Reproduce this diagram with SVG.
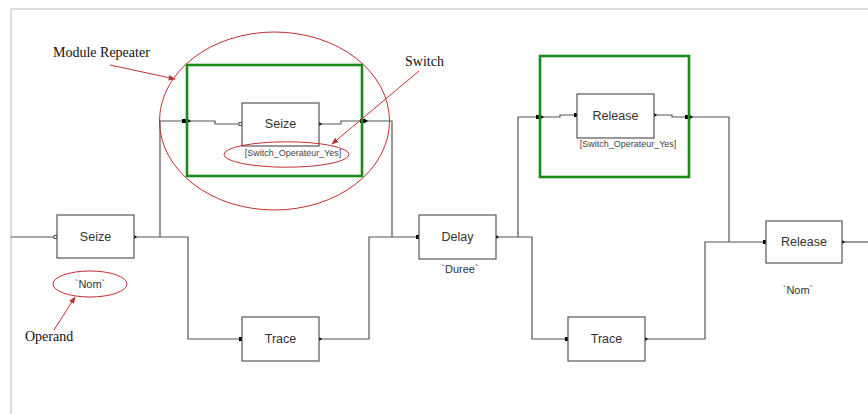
<svg xmlns="http://www.w3.org/2000/svg" width="868" height="414" viewBox="0 0 868 414">
<defs>
<style>
.box{fill:#fff;stroke:#555;stroke-width:1.2}
.wire{fill:none;stroke:#555;stroke-width:1.2}
.lbl{font-family:"Liberation Sans",Arial,sans-serif;font-size:12.5px;fill:#333;text-anchor:middle;dominant-baseline:central}
.sub{font-family:"Liberation Sans",Arial,sans-serif;font-size:9px;fill:#444;text-anchor:middle;dominant-baseline:central}
.op{font-family:"Liberation Sans",Arial,sans-serif;font-size:11px;fill:#333;text-anchor:middle;dominant-baseline:central}
.note{font-family:"Liberation Serif","Times New Roman",serif;font-size:14px;fill:#111;dominant-baseline:central}
.mod{fill:none;stroke:#1a8a1a;stroke-width:2.6}
.red{fill:none;stroke:#c03030;stroke-width:1}
.redl{fill:none;stroke:#c03030;stroke-width:1;marker-end:url(#ah)}
.pin{fill:#000}
.pino{fill:#fff;stroke:#333;stroke-width:0.8}
</style>
<marker id="ah" viewBox="0 0 10 10" refX="9" refY="5" markerWidth="7" markerHeight="7" orient="auto">
<path d="M0,1 L10,5 L0,9 z" fill="#c03030"/>
</marker>
</defs>
<rect width="868" height="414" fill="#fff"/>
<g id="frame">
<line x1="10" y1="9" x2="868" y2="9" stroke="#ddd" stroke-width="2"/>
<line x1="11" y1="8" x2="11" y2="414" stroke="#ddd" stroke-width="2"/>
</g>
<g id="connectors">
<path class="wire" d="M11,237 H57"/>
<path class="wire" d="M134,237 H188 V339 H242"/>
<path class="wire" d="M160,237 V121 H215 V124 H242"/>
<path class="wire" d="M319,124 H341 V121 H392 V237"/>
<path class="wire" d="M319,339 H369 V237 H419"/>
<path class="wire" d="M496,237 H532 V339 H568"/>
<path class="wire" d="M518,237 V117 H560 V115 H577"/>
<path class="wire" d="M654,115 H672 V117 H729 V242"/>
<path class="wire" d="M645,339 H705 V242 H766"/>
<path class="wire" d="M842,242 H868"/>
</g>
<g id="pins">
<rect class="pino" x="54" y="235.5" width="3" height="3"/>
<path class="pin" d="M134,235 L137,237 L134,239 z"/>
<rect class="pino" x="239" y="122.5" width="3" height="3"/>
<path class="pin" d="M319,122 L322,124 L319,126 z"/>
<rect class="pin" x="239" y="337" width="3" height="4"/>
<path class="pin" d="M319,337 L322,339 L319,341 z"/>
<rect class="pin" x="416" y="235" width="3" height="4"/>
<path class="pin" d="M496,235 L499,237 L496,239 z"/>
<rect class="pin" x="565" y="337" width="3" height="4"/>
<path class="pin" d="M645,337 L648,339 L645,341 z"/>
<rect class="pin" x="763" y="240" width="3" height="4"/>
<path class="pin" d="M842,240 L845,242 L842,244 z"/>
<rect class="pin" x="574" y="113" width="3" height="4"/>
<path class="pin" d="M654,113 L657,115 L654,117 z"/>
<rect class="pin" x="182" y="119" width="4" height="4"/>
<path class="pin" d="M187,118.5 L191,121 L187,123.5 z"/>
<rect class="pin" x="360" y="119" width="4" height="4"/>
<path class="pin" d="M364,118.5 L368,121 L364,123.5 z"/>
<rect class="pin" x="536" y="115" width="4" height="4"/>
<path class="pin" d="M540,114.5 L544,117 L540,119.5 z"/>
<rect class="pin" x="685" y="115" width="4" height="4"/>
<path class="pin" d="M689,114.5 L693,117 L689,119.5 z"/>
</g>
<g id="seize1">
<rect class="box" x="57" y="215" width="77" height="43"/>
<text class="lbl" x="95.5" y="237">Seize</text>
<text class="op" x="90" y="284">`Nom`</text>
</g>
<g id="module-repeater-1">
<rect class="mod" x="187" y="65" width="175" height="111"/>
</g>
<g id="seize2">
<rect class="box" x="242" y="103" width="77" height="43"/>
<text class="lbl" x="280.5" y="124">Seize</text>
<text class="sub" x="293" y="153">[Switch_Operateur_Yes]</text>
</g>
<g id="trace1">
<rect class="box" x="242" y="317" width="77" height="44"/>
<text class="lbl" x="280.5" y="339">Trace</text>
</g>
<g id="delay">
<rect class="box" x="419" y="215" width="77" height="44"/>
<text class="lbl" x="457.5" y="237">Delay</text>
<text class="op" x="460" y="269">`Duree`</text>
</g>
<g id="module-repeater-2">
<rect class="mod" x="540" y="56" width="149" height="121"/>
</g>
<g id="release1">
<rect class="box" x="577" y="94" width="77" height="44"/>
<text class="lbl" x="615.5" y="116">Release</text>
<text class="sub" x="628" y="144">[Switch_Operateur_Yes]</text>
</g>
<g id="trace2">
<rect class="box" x="568" y="317" width="77" height="44"/>
<text class="lbl" x="606.5" y="339">Trace</text>
</g>
<g id="release2">
<rect class="box" x="766" y="221" width="76" height="42"/>
<text class="lbl" x="804" y="242">Release</text>
<text class="op" x="798" y="290">`Nom`</text>
</g>
<g id="annotations">
<ellipse class="red" cx="274.5" cy="121" rx="115" ry="89"/>
<ellipse class="red" cx="286.5" cy="154.5" rx="62.5" ry="12.7"/>
<ellipse class="red" cx="90" cy="284" rx="37" ry="13"/>
<text class="note" x="53" y="52">Module Repeater</text>
<text class="note" x="405" y="61">Switch</text>
<text class="note" x="25" y="336">Operand</text>
<path class="redl" d="M110,65 L175,79"/>
<path class="redl" d="M419,71 L332,144"/>
<path class="redl" d="M54,330 L75,297"/>
</g>
</svg>
